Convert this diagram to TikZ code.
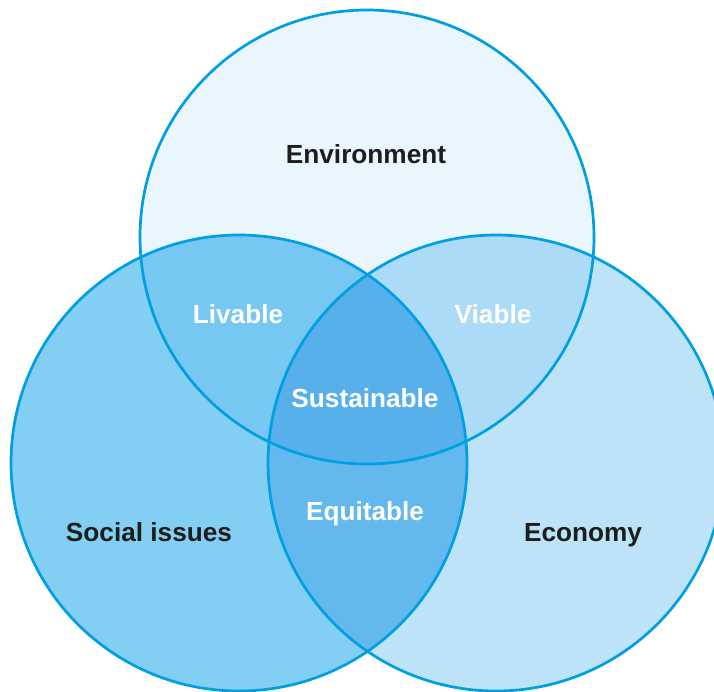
\documentclass[tikz,border=0pt]{standalone}
\usepackage{fontspec}
\setmainfont{Liberation Sans}
\usepackage{tikz}
\definecolor{rim}{HTML}{009FE3}
\definecolor{ink}{HTML}{1D1D1B}
\definecolor{envfill}{HTML}{E9F6FE}
\definecolor{socfill}{HTML}{83CEF3}
\definecolor{ecofill}{HTML}{BDE3F8}
\definecolor{livfill}{HTML}{76C7F2}
\definecolor{viafill}{HTML}{ACDBF7}
\definecolor{equfill}{HTML}{63B8ED}
\definecolor{susfill}{HTML}{58B0EB}
\tikzset{
  ring/.style={draw=rim, line width=2.7pt},
  setlbl/.style={font=\fontsize{26.2}{28}\selectfont\bfseries, text=ink, anchor=base},
  cutlbl/.style={font=\fontsize{26.2}{28}\selectfont\bfseries, text=white, anchor=base},
}
\def\EnvCircle{(367,237) circle (227pt)}
\def\SocCircle{(239,463) circle (228pt)}
\def\EcoCircle{(496,463) circle (228pt)}

\begin{document}
\begin{tikzpicture}[x=1pt, y=-1pt]
  \useasboundingbox (0,0) rectangle (714,691);
  \clip (0,0) rectangle (714,691);

  % ---------------- the three sets ----------------
  \fill[envfill] \EnvCircle;
  \fill[socfill] \SocCircle;
  \fill[ecofill] \EcoCircle;

  % ---------------- pairwise overlaps ----------------
  \begin{scope}
    \clip \EnvCircle;
    \fill[livfill] \SocCircle;
    \fill[viafill] \EcoCircle;
  \end{scope}
  \begin{scope}
    \clip \SocCircle;
    \fill[equfill] \EcoCircle;
    \clip \EcoCircle;
    \fill[susfill] \EnvCircle;
  \end{scope}

  % ---------------- outlines ----------------
  \draw[ring] \EnvCircle;
  \draw[ring] \SocCircle;
  \draw[ring] \EcoCircle;

  % ---------------- labels (placed on their baselines) ----------------
  \node[setlbl] (env) at (366,163) {Environment};
  \node[setlbl] (soc) at (149,541) {Social issues};
  \node[setlbl] (eco) at (583,541) {Economy};
  \node[cutlbl] (liv) at (238,323) {Livable};
  \node[cutlbl] (via) at (493,323) {Viable};
  \node[cutlbl] (sus) at (365,407) {Sustainable};
  \node[cutlbl] (equ) at (365,520) {Equitable};
\end{tikzpicture}
\end{document}
